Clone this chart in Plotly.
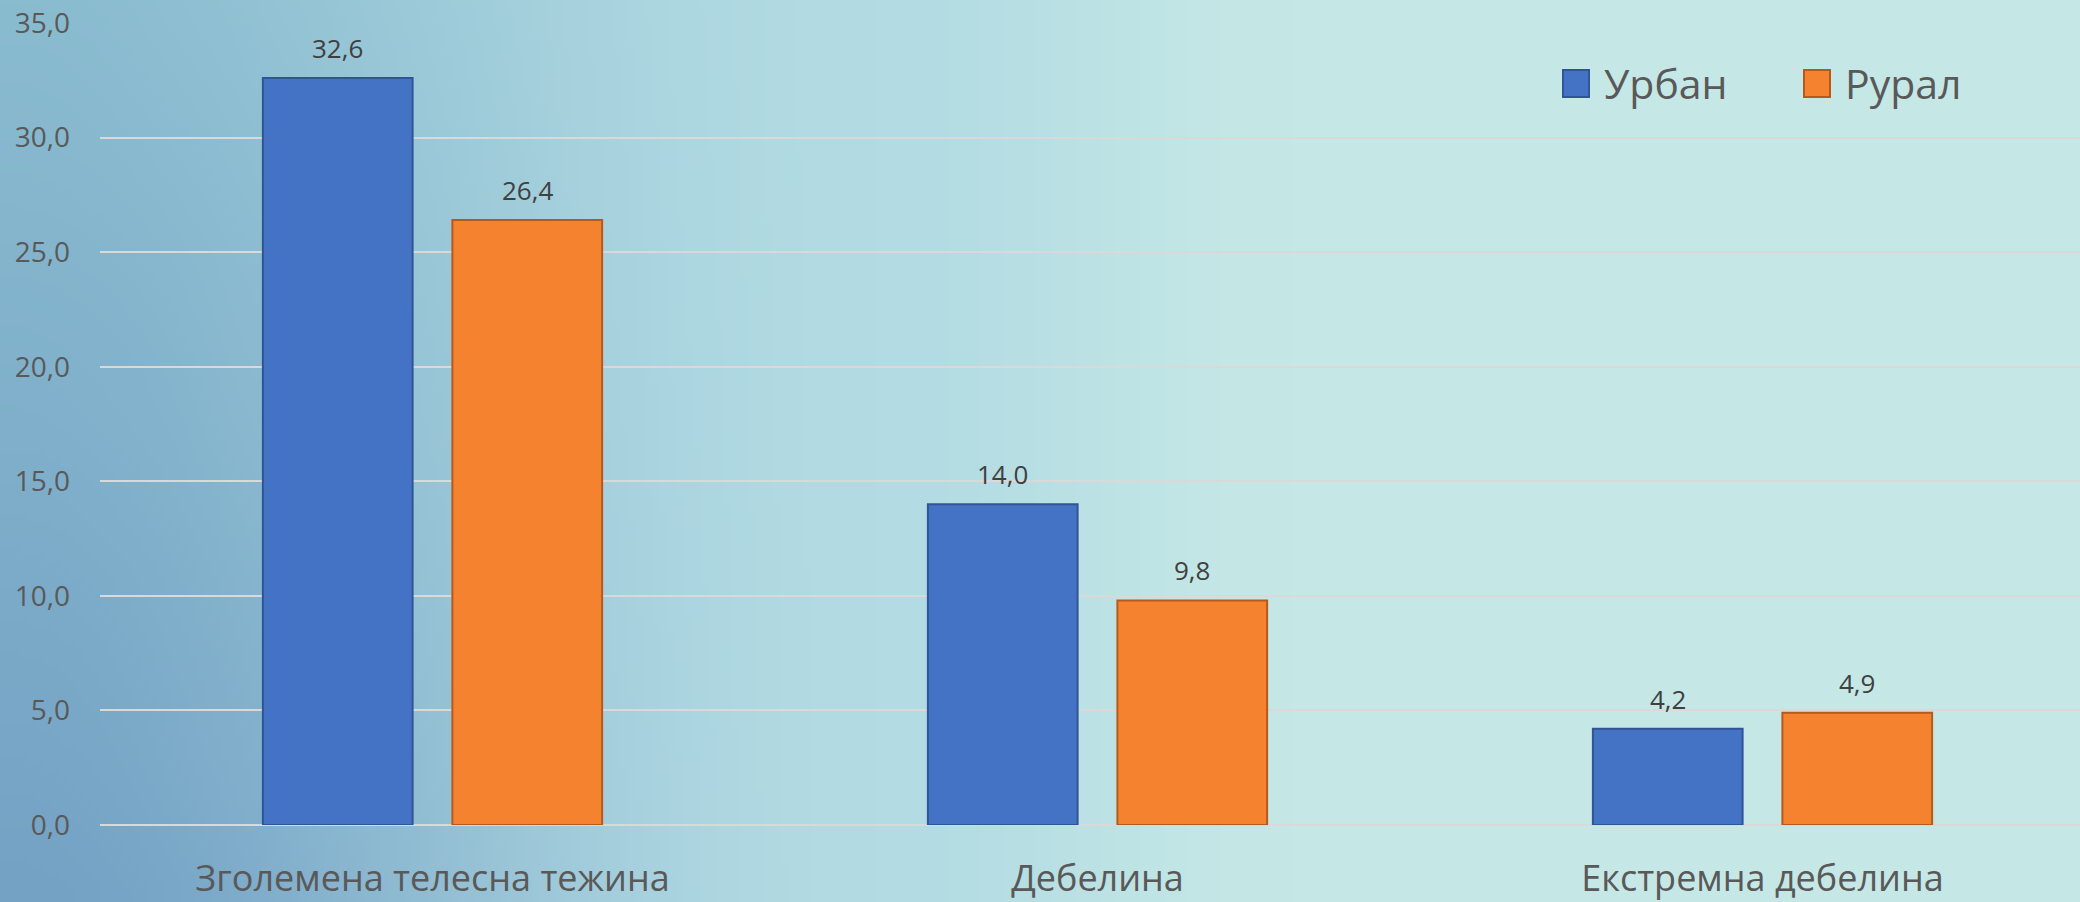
import base64
import struct
import zlib

import numpy as np
import plotly.graph_objects as go

# ---------------- data ----------------
categories = ["Зголемена телесна тежина", "Дебелина", "Екстремна дебелина"]
series_names = ["Урбан", "Рурал"]
urban_values = [32.6, 14.0, 4.2]
rural_values = [26.4, 9.8, 4.9]
y_ticks = [0, 5, 10, 15, 20, 25, 30, 35]

# ---------------- styling / layout ----------------
W, H = 2080, 902
M_L, M_R, M_T, M_B = 100, 0, 23, 77
PLOT_W = W - M_L - M_R
PLOT_H = H - M_T - M_B
PX_PER_CAT = 665.0
X_RANGE = [-0.5, -0.5 + PLOT_W / PX_PER_CAT]
BARGAP = 0.43
BARGROUPGAP = 0.21
COLORS = ["#4472C4", "#F5822F"]
EDGE = ["#2F5597", "#B55A1A"]
FONT = "Open Sans"


def px_x(px):
    return (px - M_L) / PLOT_W


def px_y(py):
    return (H - M_B - py) / PLOT_H


def make_png(arr):
    h, w, _ = arr.shape
    raw = b"".join(b"\x00" + arr[i].tobytes() for i in range(h))

    def chunk(tag, data):
        return (struct.pack(">I", len(data)) + tag + data
                + struct.pack(">I", zlib.crc32(tag + data) & 0xFFFFFFFF))

    return (b"\x89PNG\r\n\x1a\n"
            + chunk(b"IHDR", struct.pack(">IIBBBBB", w, h, 8, 2, 0, 0, 0))
            + chunk(b"IDAT", zlib.compress(raw, 9))
            + chunk(b"IEND", b""))


def background():
    gw, gh = 260, 113
    u = np.linspace(0, 1, gw)[None, :, None]
    v = np.linspace(0, 1, gh)[:, None, None]
    left_top = np.array([138, 188, 208], float)
    left_bot = np.array([116, 162, 197], float)
    mid = np.array([178, 219, 227], float)
    right = np.array([197, 232, 230], float)
    left = left_top * (1 - v) + left_bot * v
    t1 = np.clip(u / 0.42, 0, 1)
    t1 = t1 * t1 * (3 - 2 * t1)
    c1 = left * (1 - t1) + mid * t1
    t2 = np.clip((u - 0.42) / 0.2, 0, 1)
    t2 = t2 * t2 * (3 - 2 * t2)
    c = c1 * (1 - t2) + right * t2
    arr = np.clip(c, 0, 255).astype(np.uint8)
    return "data:image/png;base64," + base64.b64encode(make_png(arr)).decode()


fig = go.Figure()
for name, vals, col, edge in zip(series_names, [urban_values, rural_values], COLORS, EDGE):
    fig.add_trace(go.Bar(
        x=categories, y=vals, name=name,
        marker=dict(color=col, line=dict(color=edge, width=2)),
        showlegend=False, hoverinfo="x+y",
    ))

# data labels
group_px = (1 - BARGAP) * PX_PER_CAT
slot_px = group_px / 2
annotations = []
for j, vals in enumerate([urban_values, rural_values]):
    for cat, v in zip(categories, vals):
        annotations.append(dict(
            x=cat, y=v, xref="x", yref="y",
            text=f"{v:.1f}".replace(".", ","),
            showarrow=False, xshift=(j - 0.5) * slot_px, yshift=30,
            yanchor="middle", xanchor="center",
            font=dict(family=FONT, size=26, color="#404040"),
        ))

# custom legend
shapes = []
legend_items = [(1563, 1602), (1804, 1843)]
for (sq_x, tx_x), name, col, edge in zip(legend_items, series_names, COLORS, EDGE):
    shapes.append(dict(
        type="rect", xref="paper", yref="paper",
        x0=px_x(sq_x), x1=px_x(sq_x + 26), y0=px_y(97), y1=px_y(70),
        fillcolor=col, line=dict(color=edge, width=2), layer="above",
    ))
    annotations.append(dict(
        x=px_x(tx_x), y=px_y(83), xref="paper", yref="paper",
        text=name, showarrow=False, xanchor="left", yanchor="middle",
        font=dict(family=FONT, size=41, color="#595959"),
    ))

fig.update_layout(
    width=W, height=H,
    margin=dict(l=M_L, r=M_R, t=M_T, b=M_B, pad=0),
    paper_bgcolor="#b5dce2", plot_bgcolor="rgba(0,0,0,0)",
    separators=", ",
    barmode="group", bargap=BARGAP, bargroupgap=BARGROUPGAP,
    font=dict(family=FONT, color="#595959"),
    annotations=annotations, shapes=shapes,
    images=[dict(
        source=background(), xref="paper", yref="paper",
        x=-M_L / PLOT_W, y=1 + M_T / PLOT_H,
        sizex=W / PLOT_W, sizey=H / PLOT_H,
        xanchor="left", yanchor="top", sizing="stretch", layer="below",
    )],
    xaxis=dict(
        range=X_RANGE, showgrid=False, zeroline=False, showline=False,
        ticks="", tickfont=dict(family=FONT, size=36, color="#595959"),
        ticklabelstandoff=29,
    ),
    yaxis=dict(
        range=[0, 35], tickvals=y_ticks, tickformat=".1f",
        showgrid=True, gridcolor="#d9d9d9", gridwidth=2,
        zeroline=True, zerolinecolor="#d9d9d9", zerolinewidth=2,
        showline=False, ticks="",
        tickfont=dict(family=FONT, size=28, color="#595959"),
        ticklabelstandoff=29,
    ),
)

fig.write_html(
    "out.html",
    config={"displayModeBar": False},
    post_script="document.body.style.margin='0';document.body.style.overflow='hidden';",
)
